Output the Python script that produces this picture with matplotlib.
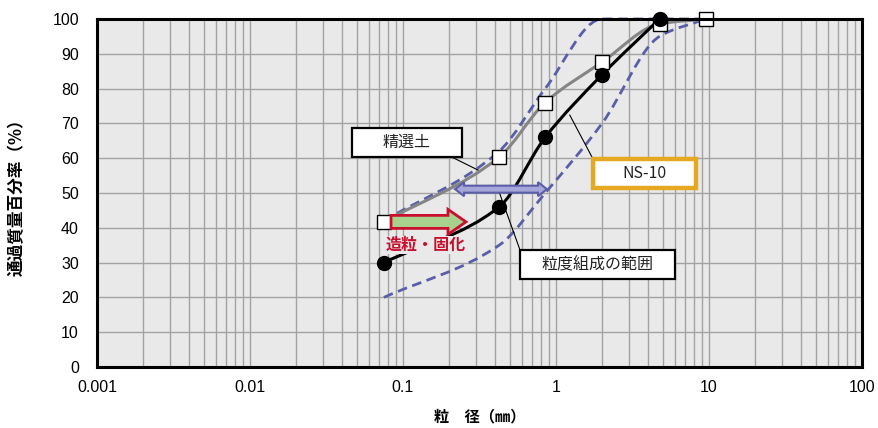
import numpy as np
import matplotlib
matplotlib.use("Agg")
import matplotlib.pyplot as plt
from matplotlib.path import Path
from matplotlib.patches import PathPatch, Rectangle, Polygon
from matplotlib.ticker import LogLocator, FixedLocator, NullFormatter, FixedFormatter

# ---------------- data ----------------
sieve_mm = [0.075, 0.425, 0.85, 2.0, 4.75, 9.5]
ns10 = [30, 46, 66, 84, 100]            # NS-10 (first 5 sieves)
seisen = [41.7, 60.3, 76, 87.6, 98.6, 100]  # 精選土
upper = [42, 62, 80, 100, 100, 100]     # 粒度組成の範囲 upper
lower = [20, 35, 50, 70, 95, 100]       # 粒度組成の範囲 lower

xticks = [0.001, 0.01, 0.1, 1, 10, 100]
xticklabels = ["0.001", "0.01", "0.1", "1", "10", "100"]
yticks = list(range(0, 101, 10))

CJK = ["Noto Sans CJK JP", "DejaVu Sans"]

fig = plt.figure(figsize=(8.79, 4.28), dpi=100)
ax = fig.add_axes([97/879, (428-367)/428, (862-97)/879, (367-19)/428])
ax.set_xscale("log")
ax.set_xlim(0.001, 100)
ax.set_ylim(0, 100)
ax.set_facecolor("#e9e9e9")

# grid
ax.xaxis.set_major_locator(FixedLocator(xticks))
ax.xaxis.set_major_formatter(FixedFormatter(xticklabels))
ax.xaxis.set_minor_locator(LogLocator(base=10, subs=np.arange(2, 10)))
ax.xaxis.set_minor_formatter(NullFormatter())
ax.set_yticks(yticks)
ax.grid(True, which="both", axis="x", color="#a3a3a3", lw=1.0, zorder=0)
ax.grid(True, which="major", axis="y", color="#a3a3a3", lw=1.0, zorder=0)
ax.set_axisbelow(True)
ax.tick_params(axis="both", which="both", length=0)
ax.tick_params(axis="y", pad=13)
ax.tick_params(axis="x", pad=9)
for lab in ax.get_xticklabels() + ax.get_yticklabels():
    lab.set_fontfamily("Liberation Sans")
    lab.set_fontsize(11.5)
for s in ax.spines.values():
    s.set_linewidth(2.2)
    s.set_color("black")
    s.set_zorder(6)


def smooth_path(xs, ys):
    """Monotone cubic (Fritsch-Carlson) smoothing in log-x space, drawn as Bezier curves."""
    lx = np.log10(np.asarray(xs, float))
    y = np.asarray(ys, float)
    n = len(lx)
    h = np.diff(lx)
    d = np.diff(y) / h
    m = np.zeros(n)
    m[0], m[-1] = d[0], d[-1]
    for i in range(1, n - 1):
        if d[i - 1] * d[i] <= 0:
            m[i] = 0.0
        else:
            w1 = 2 * h[i] + h[i - 1]
            w2 = h[i] + 2 * h[i - 1]
            m[i] = (w1 + w2) / (w1 / d[i - 1] + w2 / d[i])
    verts = [(lx[0], y[0])]
    codes = [Path.MOVETO]
    for i in range(n - 1):
        verts += [(lx[i] + h[i] / 3, y[i] + m[i] * h[i] / 3),
                  (lx[i + 1] - h[i] / 3, y[i + 1] - m[i + 1] * h[i] / 3),
                  (lx[i + 1], y[i + 1])]
        codes += [Path.CURVE4] * 3
    V = np.array(verts)
    V[:, 0] = 10 ** V[:, 0]
    return Path(V, codes)


def add_curve(xs, ys, **kw):
    p = PathPatch(smooth_path(xs, ys), fill=False, **kw)
    ax.add_patch(p)
    return p


# dashed range lines
dash_col = "#5a5ea8"
add_curve(sieve_mm, upper, ec=dash_col, lw=2, ls=(0, (3.5, 2)), zorder=3, clip_on=False)
add_curve(sieve_mm, lower, ec=dash_col, lw=2, ls=(0, (3.5, 2)), zorder=3, clip_on=False)
# 精選土
add_curve(sieve_mm, seisen, ec="#858585", lw=2.2, zorder=4, clip_on=False)
ax.plot(sieve_mm, seisen, ls="none", marker="s", ms=9.5, mfc="white", mec="black",
        mew=1.0, zorder=5, clip_on=False)
# NS-10
add_curve(sieve_mm[:5], ns10, ec="black", lw=2.2, zorder=4, clip_on=False)
ax.plot(sieve_mm[:5], ns10, ls="none", marker="o", ms=10, mfc="black", mec="black",
        zorder=5, clip_on=False)

fig.canvas.draw()


def arrow_poly(x0, x1, y, body_half, head_half, head_len, double=False):
    t = ax.transData
    (X0, Y), (X1, _) = t.transform([(x0, y), (x1, y)])
    if double:
        pts = [(X0, Y), (X0 + head_len, Y + head_half), (X0 + head_len, Y + body_half),
               (X1 - head_len, Y + body_half), (X1 - head_len, Y + head_half), (X1, Y),
               (X1 - head_len, Y - head_half), (X1 - head_len, Y - body_half),
               (X0 + head_len, Y - body_half), (X0 + head_len, Y - head_half)]
    else:
        pts = [(X0, Y + body_half), (X1 - head_len, Y + body_half), (X1 - head_len, Y + head_half),
               (X1, Y), (X1 - head_len, Y - head_half), (X1 - head_len, Y - body_half),
               (X0, Y - body_half)]
    return t.inverted().transform(pts)


# green arrow (造粒・固化)
ax.add_patch(Polygon(arrow_poly(0.0835, 0.258, 41.7, 6.5, 12.5, 18), closed=True,
                     fc="#a9d18e", ec="#c8102e", lw=2, zorder=7, joinstyle="miter"))
# blue double arrow
ax.add_patch(Polygon(arrow_poly(0.219, 0.873, 51.1, 3.5, 7, 9, double=True), closed=True,
                     fc="#a4a7d8", ec="#5a5ea8", lw=1.5, zorder=7))

ax.text(0.141, 35.0, "造粒・固化", color="#c8102e", fontsize=11.5, fontweight="bold",
        family=CJK, ha="center", va="center", zorder=8,
        bbox=dict(boxstyle="square,pad=0.05", fc="#e9e9e9", ec="none"))


def label_box(x0, x1, y0, y1, text, ec, lw):
    ax.add_patch(Rectangle((x0, y0), x1 - x0, y1 - y0, fc="white", ec=ec, lw=lw,
                           zorder=8, clip_on=False))
    xc = 10 ** ((np.log10(x0) + np.log10(x1)) / 2)
    ax.text(xc, (y0 + y1) / 2, text, fontsize=11.5, family=CJK, ha="center",
            va="center", zorder=9, color="#222222")


# leader lines
ax.plot([0.209, 0.309], [60.3, 56.6], color="black", lw=0.8, zorder=6)
ax.plot([1.72, 1.23], [60.3, 72.4], color="black", lw=0.8, zorder=6)
ax.plot([0.582, 0.425], [33.6, 50.3], color="black", lw=0.8, zorder=6)

label_box(0.0464, 0.243, 60.3, 68.7, "精選土", "black", 1.6)
label_box(1.74, 8.2, 51.3, 59.9, "NS-10", "#e6a820", 3.2)
label_box(0.582, 6.0, 25.3, 33.6, "粒度組成の範囲", "black", 1.6)

ax.set_ylabel("通過質量百分率（%）", family=CJK, fontsize=12, fontweight="bold", labelpad=19)
ax.set_xlabel("粒　径（㎜）", family=CJK, fontsize=11, fontweight="bold", labelpad=10)

fig.savefig("out.png", dpi=100)
